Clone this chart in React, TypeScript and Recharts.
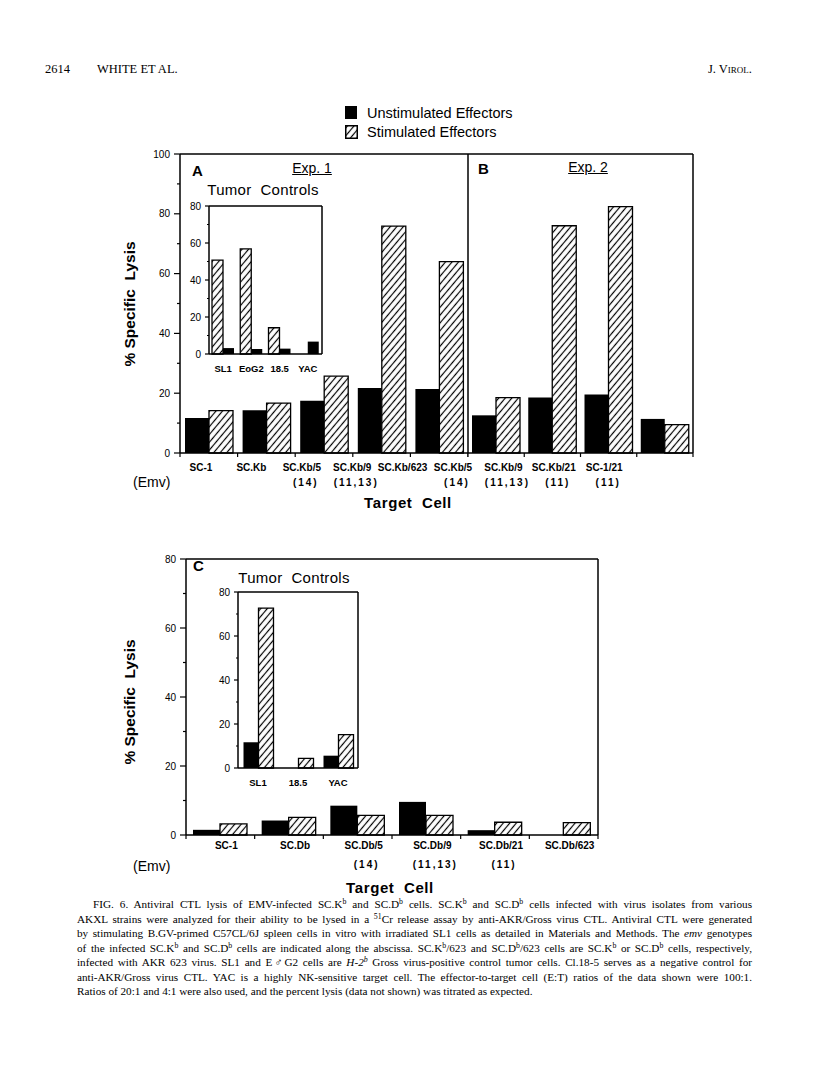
import React from 'react'
import { BarChart, Bar, XAxis, YAxis } from 'recharts'

// Fig. 6 — lisis específica (%) de células SC.Kb / SC.Db por CTL
// no estimulados (negro) y estimulados (rayado). Paneles A, B, C + insets.

const SANS = '"Liberation Sans", Arial, Helvetica, sans-serif'
const SERIF = '"Liberation Serif", "Times New Roman", serif'

// ---- Panel A (Exp. 1)
const catsA = ['SC-1', 'SC.Kb', 'SC.Kb/5', 'SC.Kb/9', 'SC.Kb/623']
const emvA = ['', '', '(14)', '(11,13)', '']
const unstimA = [11.7, 14.3, 17.5, 21.7, 21.4]
const stimA = [14.2, 16.7, 25.7, 75.9, 64.0]

// ---- Panel B (Exp. 2)
const catsB = ['SC.Kb/5', 'SC.Kb/9', 'SC.Kb/21', 'SC-1/21']
const emvB = ['(14)', '(11,13)', '(11)', '(11)']
const unstimB = [12.6, 18.6, 19.6, 11.4]
const stimB = [18.5, 76.0, 82.4, 9.5]

// ---- Inset A (tumor controls)
const catsInsetA = ['SL1', 'EoG2', '18.5', 'YAC']
const stimInsetA = [50.7, 56.8, 14.2, 0]
const unstimInsetA = [3.2, 2.7, 2.9, 6.7]

// ---- Panel C
const catsC = ['SC-1', 'SC.Db', 'SC.Db/5', 'SC.Db/9', 'SC.Db/21', 'SC.Db/623']
const emvC = ['', '', '(14)', '(11,13)', '(11)', '']
const unstimC = [1.5, 4.2, 8.5, 9.6, 1.4, 0]
const stimC = [3.2, 5.1, 5.7, 5.7, 3.7, 3.6]

// ---- Inset C
const catsInsetC = ['SL1', '18.5', 'YAC']
const unstimInsetC = [11.7, 0, 5.6]
const stimInsetC = [72.7, 4.4, 15.2]

const ticks100 = [0, 10, 20, 30, 40, 50, 60, 70, 80, 90, 100]
const ticks80 = [0, 10, 20, 30, 40, 50, 60, 70, 80]

type Row = { name: string; unstim: number; stim: number }
const rows = (cats: string[], unstim: number[], stim: number[]): Row[] =>
  cats.map((name, i) => ({ name, unstim: unstim[i], stim: stim[i] }))

const TOP_PAD = 9

function yTick(gap: number, len: number, fontSize: number) {
  return (p: any) => {
    const v = p.payload.value
    const major = v % 20 === 0
    return (
      <g>
        <line x1={p.x} x2={p.x - (major ? len : len / 2)} y1={p.y} y2={p.y} stroke="#000" strokeWidth={1.2} />
        {major && (
          <text x={p.x - gap} y={p.y} textAnchor="end" dominantBaseline="central" fontSize={fontSize} fontFamily={SANS} fill="#000">
            {v}
          </text>
        )}
      </g>
    )
  }
}

type XTickOpts = {
  band: number
  n: number
  bounds: boolean
  labelDy: number
  emvDy: number
  fontSize: number
  emv: string[]
  labelX: (x: number, i: number) => number
  emvX: (x: number, i: number) => number
}

function xTick(o: XTickOpts) {
  return (p: any) => {
    const i = p.index
    const e = o.emv[i]
    return (
      <g>
        {o.bounds && (
          <line x1={p.x - o.band / 2} x2={p.x - o.band / 2} y1={p.y} y2={p.y + 4} stroke="#000" strokeWidth={1.2} />
        )}
        {o.bounds && i === o.n - 1 && (
          <line x1={p.x + o.band / 2} x2={p.x + o.band / 2} y1={p.y} y2={p.y + 4} stroke="#000" strokeWidth={1.2} />
        )}
        <text x={o.labelX(p.x, i)} y={p.y + o.labelDy} textAnchor="middle" dominantBaseline="central" fontSize={o.fontSize} fontWeight="bold" fontFamily={SANS} fill="#000">
          {p.payload.value}
        </text>
        {e && (
          <text x={o.emvX(p.x, i)} y={p.y + o.emvDy} textAnchor="middle" dominantBaseline="central" fontSize={o.fontSize} fontWeight="bold" fontFamily={SANS} letterSpacing={2} fill="#000">
            {e}
          </text>
        )}
      </g>
    )
  }
}

type PanelProps = {
  plotLeft: number
  plotTop: number
  plotW: number
  plotH: number
  axisW: number
  axisH: number
  data: Row[]
  yMax: number
  yTicks: number[]
  showYTicks: boolean
  rightBorder: boolean
  stimFirst?: boolean
  catGap: number
  xTickFn: (p: any) => any
  yTickFn?: (p: any) => any
}

function Panel(pr: PanelProps) {
  const width = pr.axisW + pr.plotW + (pr.rightBorder ? 1 : 0)
  const height = TOP_PAD + 1 + pr.plotH + pr.axisH
  const line = { stroke: '#000', strokeWidth: 1.5 }
  const black = <Bar key="u" dataKey="unstim" fill="#000" isAnimationActive={false} />
  const hatch = (
    <Bar key="s" dataKey="stim" fill="url(#hatch)" stroke="#000" strokeWidth={1.3} isAnimationActive={false} />
  )
  return (
    <div style={{ position: 'absolute', left: pr.plotLeft - pr.axisW, top: pr.plotTop - TOP_PAD - 1 }}>
      <BarChart
        width={width}
        height={height}
        data={pr.data}
        margin={{ top: TOP_PAD, right: 0, bottom: 0, left: 0 }}
        barGap={0}
        barCategoryGap={pr.catGap}
      >
        <XAxis dataKey="name" xAxisId="top" orientation="top" height={1} tick={false} tickLine={false} axisLine={line} />
        <XAxis
          dataKey="name"
          height={pr.axisH}
          interval={0}
          tickLine={false}
          tickSize={0}
          tickMargin={0}
          tick={pr.xTickFn}
          axisLine={line}
        />
        <YAxis
          type="number"
          width={pr.axisW}
          domain={[0, pr.yMax]}
          ticks={pr.yTicks}
          interval={0}
          tickLine={false}
          tickSize={0}
          tickMargin={0}
          tick={pr.showYTicks && pr.yTickFn ? pr.yTickFn : false}
          axisLine={line}
        />
        {pr.rightBorder && (
          <YAxis yAxisId="right" type="number" orientation="right" width={1} domain={[0, pr.yMax]} tick={false} tickLine={false} axisLine={line} />
        )}
        {pr.stimFirst ? [hatch, black] : [black, hatch]}
      </BarChart>
    </div>
  )
}

// Etiquetas del eje X de A+B: espaciadas uniformemente a lo ancho de ambos paneles
const AB_LABEL_X0 = 201
const AB_LABEL_STEP = 50.4
const B_AXIS_W = 40

function Txt({ x, y, anchor = 'middle', size, weight = 'normal', family = SANS, rotate, style, children }: any) {
  const tx = anchor === 'start' ? '0' : anchor === 'end' ? '-100%' : '-50%'
  return (
    <div
      style={{
        position: 'absolute',
        left: x,
        top: y,
        transform: `translate(${tx}, -50%)${rotate ? ` rotate(${rotate}deg)` : ''}`,
        fontSize: size,
        fontWeight: weight,
        fontFamily: family,
        lineHeight: 1,
        whiteSpace: 'pre',
        ...style,
      }}
    >
      {children}
    </div>
  )
}

const Sup = ({ children }: any) => (
  <sup style={{ fontSize: '0.7em', lineHeight: 0, verticalAlign: '0.45em' }}>{children}</sup>
)

const captionLines = [
  <>FIG. 6. Antiviral CTL lysis of EMV-infected SC.K<Sup>b</Sup> and SC.D<Sup>b</Sup> cells. SC.K<Sup>b</Sup> and SC.D<Sup>b</Sup> cells infected with virus isolates from various</>,
  <>AKXL strains were analyzed for their ability to be lysed in a <Sup>51</Sup>Cr release assay by anti-AKR/Gross virus CTL. Antiviral CTL were generated</>,
  <>by stimulating B.GV-primed C57CL/6J spleen cells in vitro with irradiated SL1 cells as detailed in Materials and Methods. The <i>emv</i> genotypes</>,
  <>of the infected SC.K<Sup>b</Sup> and SC.D<Sup>b</Sup> cells are indicated along the abscissa. SC.K<Sup>b</Sup>/623 and SC.D<Sup>b</Sup>/623 cells are SC.K<Sup>b</Sup> or SC.D<Sup>b</Sup> cells, respectively,</>,
  <>infected with AKR 623 virus. SL1 and E♂G2 cells are <i>H-2<Sup>b</Sup></i> Gross virus-positive control tumor cells. Cl.18-5 serves as a negative control for</>,
  <>anti-AKR/Gross virus CTL. YAC is a highly NK-sensitive target cell. The effector-to-target cell (E:T) ratios of the data shown were 100:1.</>,
  <>Ratios of 20:1 and 4:1 were also used, and the percent lysis (data not shown) was titrated as expected.</>,
]

export default function App() {
  const bandA = 288 / catsA.length
  const bandB = 225 / catsB.length
  const bandC = 412 / catsC.length
  const bLeft = 468 - B_AXIS_W

  return (
    <div style={{ position: 'absolute', left: 0, top: 0, width: 816, height: 1071, background: '#fff', color: '#000', fontFamily: SANS }}>
      <svg width={0} height={0} style={{ position: 'absolute' }}>
        <defs>
          <pattern id="hatch" patternUnits="userSpaceOnUse" width={5} height={5} patternTransform="rotate(40)">
            <rect width={5} height={5} fill="#fff" />
            <line x1={2.5} y1={0} x2={2.5} y2={5} stroke="#000" strokeWidth={1.2} />
          </pattern>
        </defs>
      </svg>

      {/* cabecera de página */}
      <Txt x={45} y={69} anchor="start" size={12.5} family={SERIF}>2614</Txt>
      <Txt x={97} y={69} anchor="start" size={12.5} family={SERIF}>WHITE ET AL.</Txt>
      <Txt x={752} y={69} anchor="end" size={12.5} family={SERIF} style={{ fontVariant: 'small-caps' }}>J. Virol.</Txt>

      {/* leyenda */}
      <div style={{ position: 'absolute', left: 345, top: 106, width: 12, height: 13, background: '#000' }} />
      <svg style={{ position: 'absolute', left: 345, top: 125 }} width={13} height={14}>
        <rect x={0.75} y={0.75} width={11.5} height={12.5} fill="url(#hatch)" stroke="#000" strokeWidth={1.5} />
      </svg>
      <Txt x={367} y={113} anchor="start" size={14.5}>Unstimulated Effectors</Txt>
      <Txt x={367} y={132} anchor="start" size={14.5}>Stimulated Effectors</Txt>

      {/* Panel A */}
      <Panel
        plotLeft={180}
        plotTop={154}
        plotW={288}
        plotH={299}
        axisW={50}
        axisH={60}
        data={rows(catsA, unstimA, stimA)}
        yMax={100}
        yTicks={ticks100}
        showYTicks
        rightBorder={false}
        catGap={5}
        yTickFn={yTick(10, 6, 10)}
        xTickFn={xTick({
          band: bandA,
          n: catsA.length,
          bounds: true,
          labelDy: 14,
          emvDy: 29,
          fontSize: 10,
          emv: emvA,
          labelX: (_x, i) => AB_LABEL_X0 + AB_LABEL_STEP * i - 130,
          emvX: (_x, i) => AB_LABEL_X0 + AB_LABEL_STEP * i - 130 + 4,
        })}
      />
      {/* Panel B */}
      <Panel
        plotLeft={468}
        plotTop={154}
        plotW={225}
        plotH={299}
        axisW={B_AXIS_W}
        axisH={60}
        data={rows(catsB, unstimB, stimB)}
        yMax={100}
        yTicks={ticks100}
        showYTicks={false}
        rightBorder
        catGap={4}
        xTickFn={xTick({
          band: bandB,
          n: catsB.length,
          bounds: true,
          labelDy: 14,
          emvDy: 29,
          fontSize: 10,
          emv: emvB,
          labelX: (_x, i) => AB_LABEL_X0 + AB_LABEL_STEP * (catsA.length + i) - bLeft,
          emvX: (_x, i) => AB_LABEL_X0 + AB_LABEL_STEP * (catsA.length + i) - bLeft + 4,
        })}
      />
      {/* Inset A */}
      <Panel
        plotLeft={209}
        plotTop={206}
        plotW={113}
        plotH={148}
        axisW={30}
        axisH={25}
        data={rows(catsInsetA, unstimInsetA, stimInsetA)}
        yMax={80}
        yTicks={ticks80}
        showYTicks
        rightBorder
        stimFirst
        catGap={3}
        yTickFn={yTick(8, 4, 10)}
        xTickFn={xTick({
          band: 113 / catsInsetA.length,
          n: catsInsetA.length,
          bounds: false,
          labelDy: 14,
          emvDy: 0,
          fontSize: 9.5,
          emv: [],
          labelX: (x) => x,
          emvX: (x) => x,
        })}
      />

      <Txt x={130} y={304} size={15.5} weight="bold" rotate={-90}>{'% Specific  Lysis'}</Txt>
      <Txt x={192} y={170} anchor="start" size={15} weight="bold">A</Txt>
      <Txt x={312} y={168} size={14} style={{ textDecoration: 'underline' }}>Exp. 1</Txt>
      <Txt x={478} y={168} anchor="start" size={15} weight="bold">B</Txt>
      <Txt x={588} y={167} size={14} style={{ textDecoration: 'underline' }}>Exp. 2</Txt>
      <Txt x={263} y={189} size={15} style={{ letterSpacing: 0.3 }}>{'Tumor  Controls'}</Txt>
      <Txt x={133} y={482} anchor="start" size={14}>(Emv)</Txt>
      <Txt x={408} y={502} size={15} weight="bold" style={{ letterSpacing: 0.6 }}>{'Target  Cell'}</Txt>

      {/* Panel C */}
      <Panel
        plotLeft={186}
        plotTop={559}
        plotW={412}
        plotH={276}
        axisW={50}
        axisH={60}
        data={rows(catsC, unstimC, stimC)}
        yMax={80}
        yTicks={ticks80}
        showYTicks
        rightBorder
        catGap={7}
        yTickFn={yTick(10, 6, 10)}
        xTickFn={xTick({
          band: bandC,
          n: catsC.length,
          bounds: true,
          labelDy: 10,
          emvDy: 29.5,
          fontSize: 10,
          emv: emvC,
          labelX: (x) => x + 6,
          emvX: (x) => x + 9,
        })}
      />
      {/* Inset C */}
      <Panel
        plotLeft={238}
        plotTop={592}
        plotW={120}
        plotH={176}
        axisW={30}
        axisH={25}
        data={rows(catsInsetC, unstimInsetC, stimInsetC)}
        yMax={80}
        yTicks={ticks80}
        showYTicks
        rightBorder
        catGap={5.5}
        yTickFn={yTick(8, 4, 10)}
        xTickFn={xTick({
          band: 120 / catsInsetC.length,
          n: catsInsetC.length,
          bounds: false,
          labelDy: 14,
          emvDy: 0,
          fontSize: 9.5,
          emv: [],
          labelX: (x) => x,
          emvX: (x) => x,
        })}
      />

      <Txt x={130} y={702} size={15.5} weight="bold" rotate={-90}>{'% Specific  Lysis'}</Txt>
      <Txt x={193} y={565} anchor="start" size={15} weight="bold">C</Txt>
      <Txt x={294} y={577} size={15} style={{ letterSpacing: 0.3 }}>{'Tumor  Controls'}</Txt>
      <Txt x={133} y={866} anchor="start" size={14}>(Emv)</Txt>
      <Txt x={390} y={887} size={15} weight="bold" style={{ letterSpacing: 0.6 }}>{'Target  Cell'}</Txt>

      {/* pie de figura */}
      <div style={{ position: 'absolute', left: 77, top: 897, width: 675, fontFamily: SERIF, fontSize: 11.2, lineHeight: '14.5px' }}>
        {captionLines.map((l, i) => (
          <div
            key={i}
            style={{
              whiteSpace: 'nowrap',
              height: 14.5,
              paddingLeft: i === 0 ? 16 : 0,
              textAlign: 'left',
              textAlignLast: i === captionLines.length - 1 ? 'left' : 'justify',
            }}
          >
            {l}
          </div>
        ))}
      </div>
    </div>
  )
}
